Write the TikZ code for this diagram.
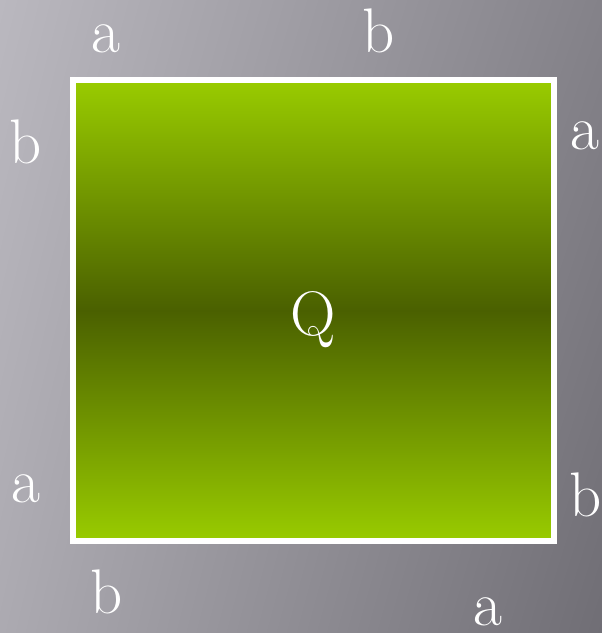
\documentclass[tikz,border=0pt]{standalone}
\usetikzlibrary{shadings}
\definecolor{bgUL}{RGB}{186,184,191}
\definecolor{bgUR}{RGB}{132,130,137}
\definecolor{bgLL}{RGB}{172,170,177}
\definecolor{bgLR}{RGB}{112,110,117}
\definecolor{gLight}{RGB}{153,204,0}
\definecolor{gDark}{RGB}{74,96,0}
\begin{document}
\begin{tikzpicture}[x=1pt,y=-1pt,
  lbl/.style={text=white,font=\rmfamily\fontsize{63}{63}\selectfont,anchor=base,inner sep=0pt}]
\useasboundingbox (0,0) rectangle (602,633);
\shade[upper left=bgUL, upper right=bgUR, lower left=bgLL, lower right=bgLR] (0,0) rectangle (602,633);
\shade[top color=gLight, bottom color=gLight, middle color=gDark] (73,80) rectangle (554,541);
\draw[white,line width=6pt] (73,80) rectangle (554,541);
\node[lbl] (q) at (313,335) {Q};
\node[lbl] (ta) at (106,52) {a};
\node[lbl] (tb) at (379,52) {b};
\node[lbl] (lb) at (26,163) {b};
\node[lbl] (ra) at (585,149) {a};
\node[lbl] (la) at (26,502) {a};
\node[lbl] (rb) at (586,516) {b};
\node[lbl] (bb) at (107,613) {b};
\node[lbl] (ba) at (488,625) {a};
\end{tikzpicture}
\end{document}
